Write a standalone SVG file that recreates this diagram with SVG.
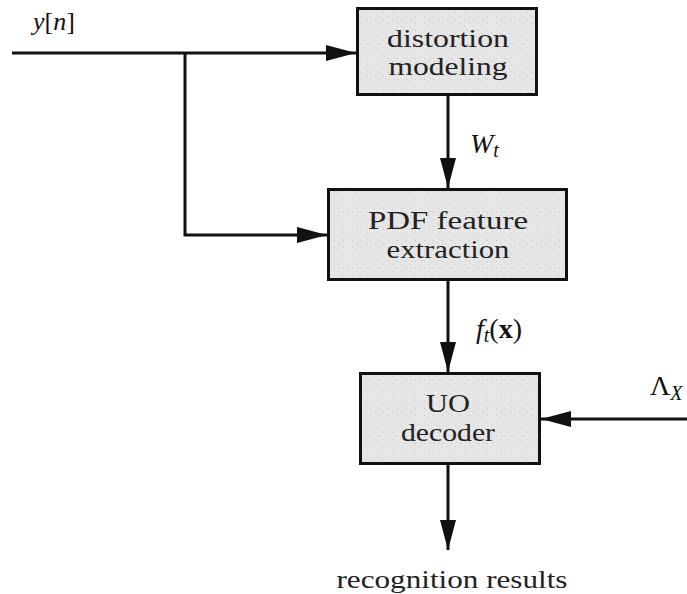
<svg xmlns="http://www.w3.org/2000/svg" width="687" height="594" viewBox="0 0 687 594">
  <style>
    .box { fill: url(#grain); stroke: #111; stroke-width: 3; }
    .lbl { font-family: "Liberation Serif", "DejaVu Serif", serif; font-size: 25px; fill: #222; text-anchor: middle; }
    .math { font-family: "Liberation Serif", "DejaVu Serif", serif; fill: #111; }
    .wire { fill: none; stroke: #111; stroke-width: 3; }
    .arrow { marker-end: url(#head); }
  </style>
  <defs>
    <!-- speckled light-grey fill used inside the blocks -->
    <pattern id="grain" width="9" height="7" patternUnits="userSpaceOnUse">
      <rect width="9" height="7" fill="#e6e6e6"/>
      <rect x="1" y="2" width="1" height="1" fill="#c4c4c4"/>
      <rect x="5" y="5" width="1" height="1" fill="#cfcfcf"/>
      <rect x="7" y="1" width="1" height="1" fill="#d2d2d2"/>
      <rect x="3" y="0" width="1" height="1" fill="#f4f4f4"/>
    </pattern>
    <marker id="head" viewBox="0 0 30 16" refX="30" refY="8" markerWidth="30" markerHeight="16" markerUnits="userSpaceOnUse" orient="auto">
      <path d="M0,0 L30,8 L0,16 Z" fill="#111"/>
    </marker>
  </defs>

  <g id="connectors">
    <line class="wire arrow" x1="12" y1="53" x2="356" y2="53"/>
    <path class="wire arrow" d="M185,53 V235 H327"/>
    <line class="wire arrow" x1="448" y1="96" x2="448" y2="188"/>
    <line class="wire arrow" x1="448" y1="281" x2="448" y2="372"/>
    <line class="wire arrow" x1="687" y1="419" x2="541" y2="419"/>
    <line class="wire arrow" x1="448" y1="465" x2="448" y2="550"/>
  </g>

  <g id="distortion-modeling">
    <rect class="box" x="357.5" y="8.5" width="179" height="86"/>
    <text class="lbl" x="448" y="47" textLength="122" lengthAdjust="spacingAndGlyphs">distortion</text>
    <text class="lbl" x="448" y="75" textLength="119" lengthAdjust="spacingAndGlyphs">modeling</text>
  </g>

  <g id="pdf-feature-extraction">
    <rect class="box" x="328.5" y="189.5" width="238" height="90"/>
    <text class="lbl" x="448" y="229" font-size="26" textLength="160" lengthAdjust="spacingAndGlyphs">PDF feature</text>
    <text class="lbl" x="448" y="258" font-size="26" textLength="123" lengthAdjust="spacingAndGlyphs">extraction</text>
  </g>

  <g id="uo-decoder">
    <rect class="box" x="360.5" y="373.5" width="179" height="90"/>
    <text class="lbl" x="448" y="412" font-size="26" textLength="44" lengthAdjust="spacingAndGlyphs">UO</text>
    <text class="lbl" x="448" y="441" font-size="26" textLength="94" lengthAdjust="spacingAndGlyphs">decoder</text>
  </g>

  <g id="labels">
    <text class="math" x="33" y="30" font-size="26"><tspan font-style="italic">y</tspan>[<tspan font-style="italic">n</tspan>]</text>
    <text class="math" x="470" y="153" font-size="28" font-style="italic">W<tspan font-size="20" dy="4">t</tspan></text>
    <text class="math" x="476" y="338" font-size="28"><tspan font-style="italic">f</tspan><tspan font-style="italic" font-size="20" dy="4">t</tspan><tspan dy="-4">(</tspan><tspan font-weight="bold">x</tspan>)</text>
    <text class="math" x="650" y="395" font-size="28">Λ<tspan font-style="italic" font-size="20" dy="5">X</tspan></text>
    <text class="lbl" x="452" y="588" font-size="27" textLength="231" lengthAdjust="spacingAndGlyphs">recognition results</text>
  </g>
</svg>
